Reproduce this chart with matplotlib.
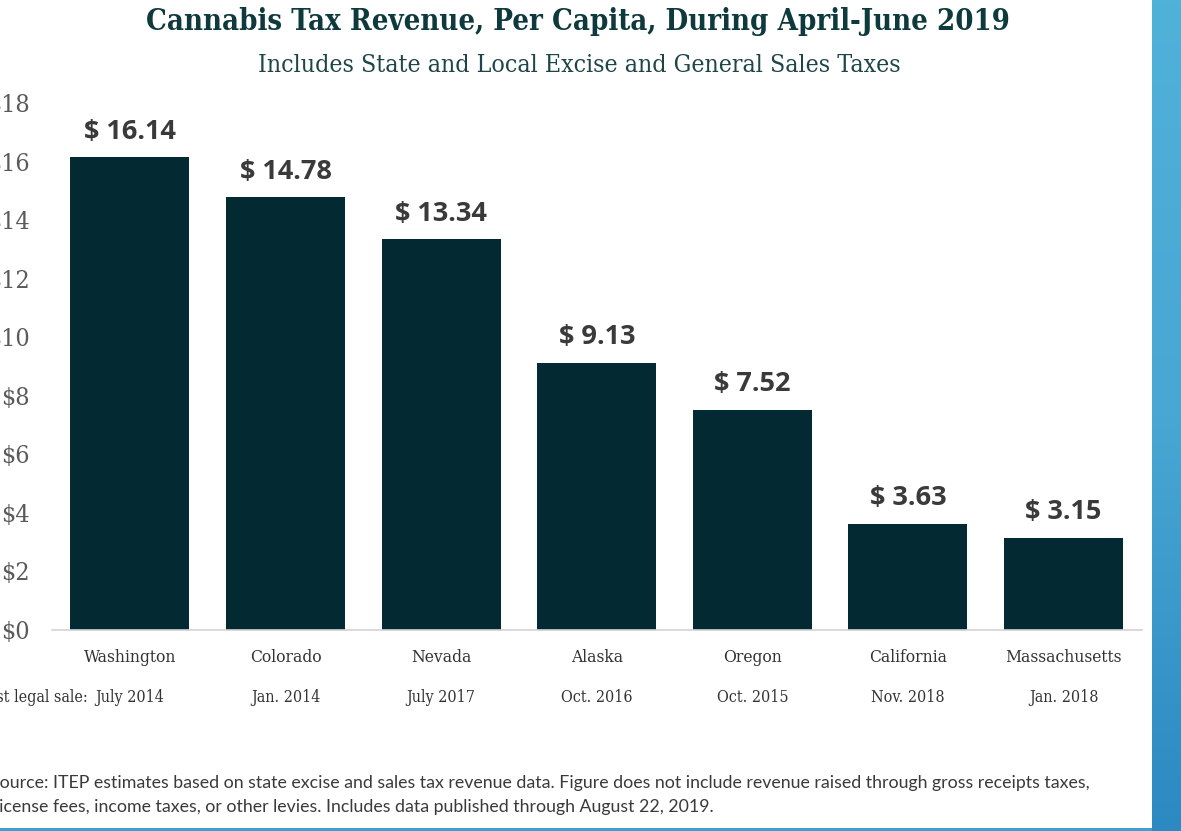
import numpy as np
import matplotlib
matplotlib.use("Agg")
import matplotlib.pyplot as plt
from matplotlib.patches import Rectangle
from matplotlib.colors import LinearSegmentedColormap

# per-capita cannabis tax revenue, Apr-Jun 2019
states = ["Washington", "Colorado", "Nevada", "Alaska", "Oregon", "California", "Massachusetts"]
first_sale = ["July 2014", "Jan. 2014", "July 2017", "Oct. 2016", "Oct. 2015", "Nov. 2018", "Jan. 2018"]
revenue = [16.14, 14.78, 13.34, 9.13, 7.52, 3.63, 3.15]
y_ticks = [0, 2, 4, 6, 8, 10, 12, 14, 16, 18]

W, H = 1181, 831
BAR = "#032a33"
SERIF = "DejaVu Serif"

fig = plt.figure(figsize=(W / 100, H / 100), dpi=100, facecolor="white")

# blue backdrop strip on the right + thin line at the bottom
bg = fig.add_axes([1152 / W, 0, 1 - 1152 / W, 1])
grad = np.linspace(0, 1, 256).reshape(-1, 1)
cmap = LinearSegmentedColormap.from_list("bg", ["#50b1d9", "#49a7d3", "#2c89c2"])
bg.imshow(grad, aspect="auto", cmap=cmap, extent=[0, 1, 0, 1], origin="upper")
bg.axis("off")
fig.add_artist(Rectangle((0, 0), 1152 / W, 3 / H, transform=fig.transFigure,
                         color="#3f9fd0", lw=0))

ax = fig.add_axes([52 / W, (H - 630) / H, 1090 / W, 527 / H])
x = np.arange(len(states))
bars = ax.bar(x, revenue, width=0.765, color=BAR, zorder=2)

ax.set_xlim(-0.501, 6.504)
ax.set_ylim(0, 18)
ax.set_yticks(y_ticks)
ax.set_yticklabels([f"${v}" for v in y_ticks], family=SERIF, fontstretch="condensed",
                   fontsize=18, color="#5a5a5a")
ax.tick_params(axis="y", length=0, pad=16)
ax.set_xticks([])
for s in ["top", "right", "left"]:
    ax.spines[s].set_visible(False)
ax.spines["bottom"].set_color("#d3d3d3")
ax.spines["bottom"].set_linewidth(1.2)

# value labels over bars
for b, v in zip(bars, revenue):
    ax.annotate(f"$ {v:.2f}", (b.get_x() + b.get_width() / 2, v),
                xytext=(0, 9), textcoords="offset points", ha="center", va="bottom",
                fontsize=19.5, fontweight="bold", family="Open Sans", color="#3a3a3a")

# state names and first legal sale dates
xt = ax.get_xaxis_transform()
for i, (st, d) in enumerate(zip(states, first_sale)):
    ax.text(i, -28 / 527, st, transform=xt, ha="center", va="center",
            family=SERIF, fontstretch="condensed", fontsize=12.5, color="#333333")
    ax.text(i, -68 / 527, d, transform=xt, ha="center", va="center",
            family=SERIF, fontstretch="condensed", fontsize=11.5, color="#333333")
fig.text(88 / W, 1 - 698 / H, "First legal sale:", ha="right", va="center",
         family=SERIF, fontstretch="condensed", fontsize=11.5, color="#333333")

fig.text(578 / W, 1 - 22 / H, "Cannabis Tax Revenue, Per Capita, During April-June 2019",
         ha="center", va="center", family=SERIF, fontstretch="condensed",
         fontweight="bold", fontsize=21, color="#0e3a3d")
fig.text(579 / W, 1 - 65 / H, "Includes State and Local Excise and General Sales Taxes",
         ha="center", va="center", family=SERIF, fontstretch="condensed",
         fontsize=17.8, color="#1e4548")

note = ("Source: ITEP estimates based on state excise and sales tax revenue data. "
        "Figure does not include revenue raised through gross receipts taxes,\n"
        "License fees, income taxes, or other levies. Includes data published through August 22, 2019.")
fig.text(-10 / W, 1 - 795 / H, note, ha="left", va="center", family="Lato",
         fontsize=12.8, color="#3a3a3a", linespacing=1.65)

fig.savefig("out.png", dpi=100, facecolor="white")
